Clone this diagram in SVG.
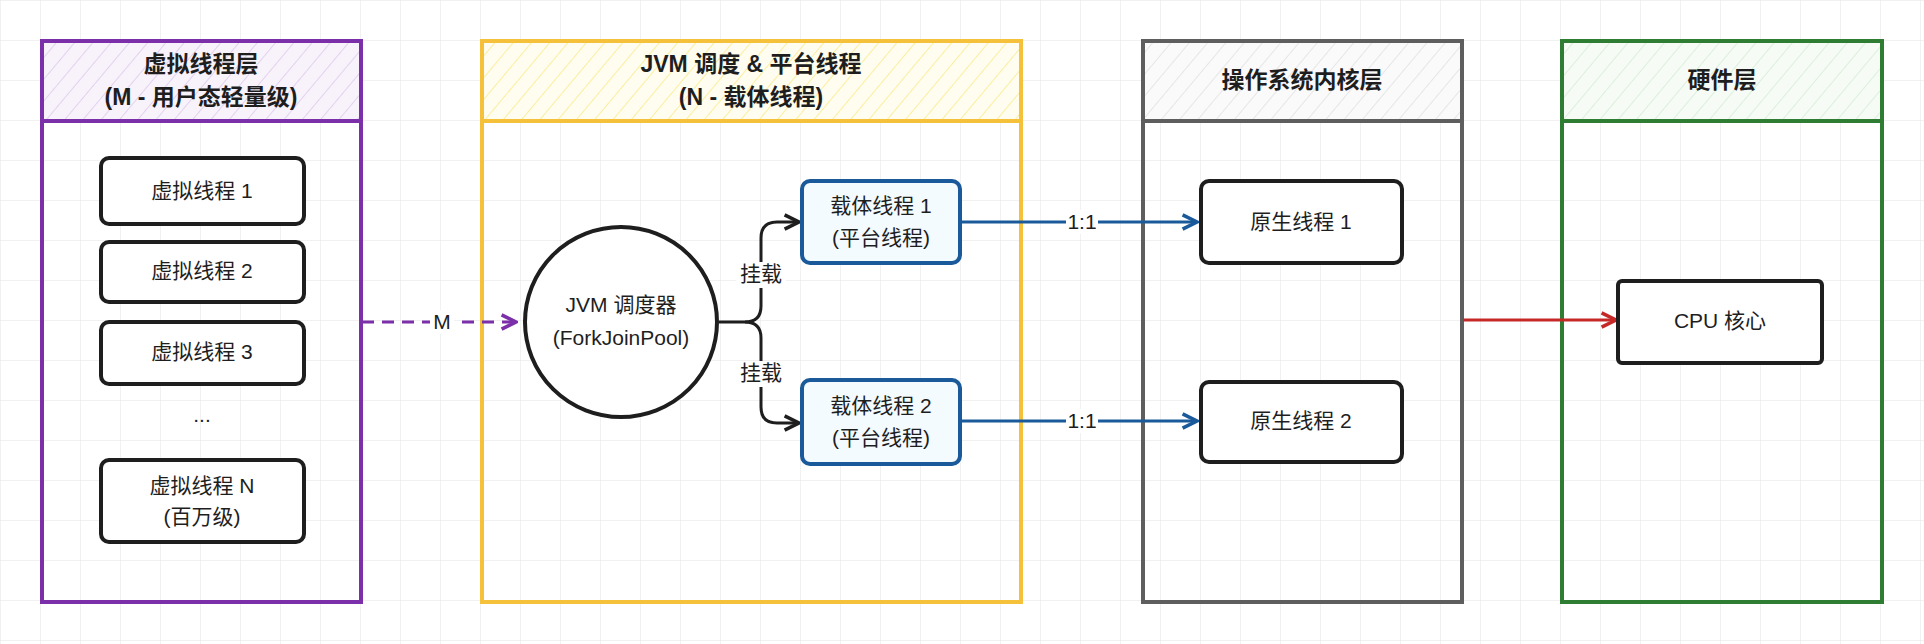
<svg xmlns="http://www.w3.org/2000/svg" width="1924" height="644" viewBox="0 0 1924 644">
<style>
text{font-family:"Liberation Sans","Noto Sans CJK SC",sans-serif;font-size:21px;fill:#1e1e1e;text-anchor:middle;dominant-baseline:middle}
.h{font-weight:bold;font-size:23px}
.node{fill:#fff;stroke:#1e1e1e;stroke-width:4}
.cn{fill:#f4fbfe;stroke:#1a5a9a;stroke-width:4}
.lane{fill:none;stroke-width:4}
.conn{fill:none;stroke-width:3}
</style>
<defs>
<pattern id="grid" width="40" height="40" patternUnits="userSpaceOnUse"><path d="M40 0H0V40" fill="none" stroke="#e3e3e3" stroke-width="1"/></pattern>
<pattern id="hp" width="14" height="14" patternUnits="userSpaceOnUse" patternTransform="rotate(40)"><rect width="14" height="14" fill="#f8f3fb"/><line x1="0" y1="0" x2="0" y2="14" stroke="#e2d2ee" stroke-width="2"/></pattern>
<pattern id="hy" width="14" height="14" patternUnits="userSpaceOnUse" patternTransform="rotate(40)"><rect width="14" height="14" fill="#fffdf0"/><line x1="0" y1="0" x2="0" y2="14" stroke="#fbeea0" stroke-width="2"/></pattern>
<pattern id="hg" width="14" height="14" patternUnits="userSpaceOnUse" patternTransform="rotate(40)"><rect width="14" height="14" fill="#fafafa"/><line x1="0" y1="0" x2="0" y2="14" stroke="#e6e6e6" stroke-width="2"/></pattern>
<pattern id="hgr" width="14" height="14" patternUnits="userSpaceOnUse" patternTransform="rotate(40)"><rect width="14" height="14" fill="#f6fbf6"/><line x1="0" y1="0" x2="0" y2="14" stroke="#dcefdc" stroke-width="2"/></pattern>
<marker id="ab" viewBox="0 0 10 10" refX="9" refY="5" markerWidth="6" markerHeight="6" orient="auto"><path d="M1 1L9 5L1 9" fill="none" stroke="#1e1e1e" stroke-width="2"/></marker>
<marker id="ap" viewBox="0 0 10 10" refX="9" refY="5" markerWidth="6" markerHeight="6" orient="auto"><path d="M1 1L9 5L1 9" fill="none" stroke="#7b2fa8" stroke-width="2"/></marker>
<marker id="abl" viewBox="0 0 10 10" refX="9" refY="5" markerWidth="6" markerHeight="6" orient="auto"><path d="M1 1L9 5L1 9" fill="none" stroke="#1a5a9a" stroke-width="2"/></marker>
<marker id="ar" viewBox="0 0 10 10" refX="9" refY="5" markerWidth="6" markerHeight="6" orient="auto"><path d="M1 1L9 5L1 9" fill="none" stroke="#c62828" stroke-width="2"/></marker>
</defs>
<rect width="1924" height="644" fill="#fff"/>
<rect width="1924" height="644" fill="url(#grid)"/>

<g id="lane-virtual">
<rect x="42" y="41" width="319" height="80" fill="url(#hp)"/>
<rect class="lane" x="42" y="41" width="319" height="561" stroke="#7b2fa8"/>
<line x1="42" y1="121" x2="361" y2="121" stroke="#7b2fa8" stroke-width="4"/>
<text class="h" x="201" y="66">虚拟线程层</text>
<text class="h" x="201" y="99">(M - 用户态轻量级)</text>
</g>
<g id="lane-jvm">
<rect x="482" y="41" width="539" height="80" fill="url(#hy)"/>
<rect class="lane" x="482" y="41" width="539" height="561" stroke="#f5c13a"/>
<line x1="482" y1="121" x2="1021" y2="121" stroke="#f5c13a" stroke-width="4"/>
<text class="h" x="751" y="66">JVM 调度 &amp; 平台线程</text>
<text class="h" x="751" y="99">(N - 载体线程)</text>
</g>
<g id="lane-os">
<rect x="1143" y="41" width="319" height="80" fill="url(#hg)"/>
<rect class="lane" x="1143" y="41" width="319" height="561" stroke="#5e5e5e"/>
<line x1="1143" y1="121" x2="1462" y2="121" stroke="#5e5e5e" stroke-width="4"/>
<text class="h" x="1302" y="82">操作系统内核层</text>
</g>
<g id="lane-hw">
<rect x="1562" y="41" width="320" height="80" fill="url(#hgr)"/>
<rect class="lane" x="1562" y="41" width="320" height="561" stroke="#2e7d32"/>
<line x1="1562" y1="121" x2="1882" y2="121" stroke="#2e7d32" stroke-width="4"/>
<text class="h" x="1722" y="82">硬件层</text>
</g>

<g id="connectors">
<path class="conn" d="M362 322H516" stroke="#7b2fa8" stroke-dasharray="12 8" marker-end="url(#ap)"/>
<rect x="430" y="310" width="24" height="24" fill="#fff"/>
<text x="442" y="323">M</text>
<path class="conn" d="M719 322H745Q761 322 761 306V238Q761 222 777 222H799" stroke="#1e1e1e" marker-end="url(#ab)"/>
<path class="conn" d="M745 322Q761 322 761 338V407Q761 423 777 423H799" stroke="#1e1e1e" marker-end="url(#ab)"/>
<rect x="736" y="262" width="50" height="26" fill="#fff"/>
<text x="761" y="275">挂载</text>
<rect x="736" y="361" width="50" height="26" fill="#fff"/>
<text x="761" y="374">挂载</text>
<path class="conn" d="M962 222H1197" stroke="#1a5a9a" marker-end="url(#abl)"/>
<rect x="1066" y="210" width="32" height="24" fill="#fff"/>
<text x="1082" y="223">1:1</text>
<path class="conn" d="M962 421H1197" stroke="#1a5a9a" marker-end="url(#abl)"/>
<rect x="1066" y="409" width="32" height="24" fill="#fff"/>
<text x="1082" y="422">1:1</text>
<path class="conn" d="M1463 320H1616" stroke="#c62828" marker-end="url(#ar)"/>
</g>

<g id="vt1"><rect class="node" x="101" y="158" width="203" height="66" rx="8"/><text x="202" y="192">虚拟线程 1</text></g>
<g id="vt2"><rect class="node" x="101" y="242" width="203" height="60" rx="8"/><text x="202" y="272">虚拟线程 2</text></g>
<g id="vt3"><rect class="node" x="101" y="322" width="203" height="62" rx="8"/><text x="202" y="353">虚拟线程 3</text></g>
<g id="dots"><text x="202" y="416">...</text></g>
<g id="vtn"><rect class="node" x="101" y="460" width="203" height="82" rx="8"/><text x="202" y="487">虚拟线程 N</text><text x="202" y="518">(百万级)</text></g>
<g id="scheduler"><ellipse class="node" cx="621" cy="322" rx="96" ry="95"/><text x="621" y="306">JVM 调度器</text><text x="621" y="339">(ForkJoinPool)</text></g>
<g id="ct1"><rect class="cn" x="802" y="181" width="158" height="82" rx="8"/><text x="881" y="207">载体线程 1</text><text x="881" y="239">(平台线程)</text></g>
<g id="ct2"><rect class="cn" x="802" y="380" width="158" height="84" rx="8"/><text x="881" y="407">载体线程 2</text><text x="881" y="439">(平台线程)</text></g>
<g id="nt1"><rect class="node" x="1201" y="181" width="201" height="82" rx="8"/><text x="1301" y="223">原生线程 1</text></g>
<g id="nt2"><rect class="node" x="1201" y="382" width="201" height="80" rx="8"/><text x="1301" y="422">原生线程 2</text></g>
<g id="cpu"><rect class="node" x="1618" y="281" width="204" height="82" rx="4"/><text x="1720" y="322">CPU 核心</text></g>
</svg>
